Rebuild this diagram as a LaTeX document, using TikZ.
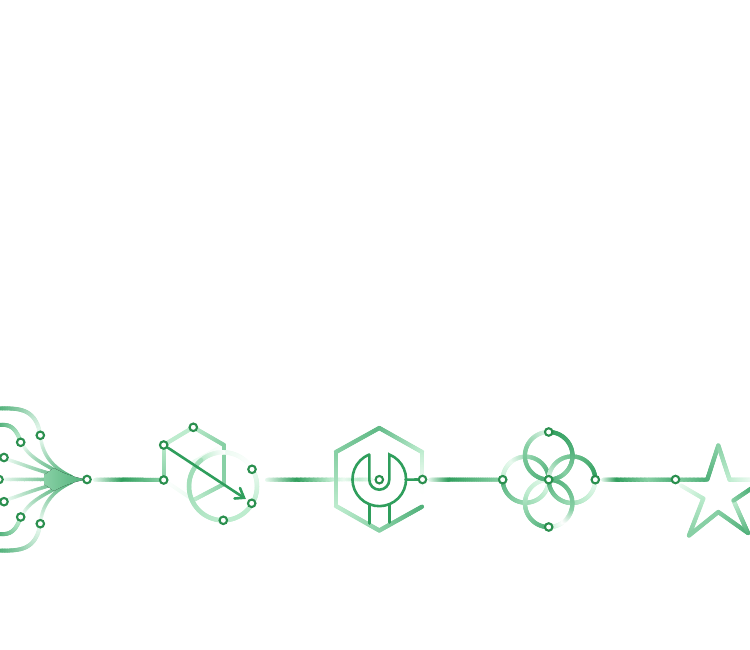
\documentclass[tikz,border=0pt]{standalone}
\usetikzlibrary{calc}
\definecolor{gd}{HTML}{2F9E5C}
\definecolor{gk}{HTML}{50B079}
\definecolor{gm}{HTML}{88D0A5}
\definecolor{gl}{HTML}{BDECCE}
\definecolor{gf}{HTML}{EAFAF0}
\definecolor{pr}{HTML}{2A8F4E}
\pgfdeclarelayer{fg}
\pgfsetlayers{main,fg}
\tikzset{
  port/.style={circle,draw=pr,fill=white,line width=2.1pt,minimum size=7.5pt,inner sep=0pt},
  seg/.style={line cap=round,line join=round},
  thin line/.style={draw=gd,line width=2.6pt,line cap=round,line join=miter}
}
\newcommand\NS{24}
\newcommand\WF{1.25}
% width, c1, c2, node a, node b
\newcommand\gline[5]{%
  \foreach \i in {1,...,\NS}{%
    \pgfmathsetmacro\ta{(\i-1)/\NS}%
    \pgfmathsetmacro\tb{\i/\NS}%
    \pgfmathsetmacro\pc{100*(1-(\i-.5)/\NS)}%
    \draw[seg,line width=\WF*#1pt,color={#2!\pc!#3}] ($(#4)!\ta!(#5)$) -- ($(#4)!\tb!(#5)$);
  }}
% width, c1, c2, cx, cy, r, a1, a2 (angles clockwise on the page)
\newcommand\garc[8]{%
  \foreach \i in {1,...,\NS}{%
    \pgfmathsetmacro\ta{#7+(#8-#7)*(\i-1)/\NS}%
    \pgfmathsetmacro\tb{#7+(#8-#7)*\i/\NS}%
    \pgfmathsetmacro\pc{100*(1-(\i-.5)/\NS)}%
    \pgfmathsetmacro\xa{#4+#6*cos(\ta)}\pgfmathsetmacro\ya{#5+#6*sin(\ta)}%
    \pgfmathsetmacro\xb{#4+#6*cos(\tb)}\pgfmathsetmacro\yb{#5+#6*sin(\tb)}%
    \draw[seg,line width=\WF*#1pt,color={#2!\pc!#3}] (\xa,\ya) -- (\xb,\yb);
  }}
% width, c1, c2, then x0 y0 x1 y1 x2 y2 x3 y3
\newcommand\gbez[3]{\def\gw{#1}\def\gca{#2}\def\gcb{#3}\gbezb}
\newcommand\gbezb[8]{%
  \foreach \i in {1,...,\NS}{%
    \pgfmathsetmacro\ta{(\i-1)/\NS}%
    \pgfmathsetmacro\tb{\i/\NS}%
    \pgfmathsetmacro\pc{100*(1-(\i-.5)/\NS)}%
    \pgfmathsetmacro\xa{(1-\ta)^3*(#1)+3*(1-\ta)^2*\ta*(#3)+3*(1-\ta)*\ta^2*(#5)+\ta^3*(#7)}%
    \pgfmathsetmacro\ya{(1-\ta)^3*(#2)+3*(1-\ta)^2*\ta*(#4)+3*(1-\ta)*\ta^2*(#6)+\ta^3*(#8)}%
    \pgfmathsetmacro\xb{(1-\tb)^3*(#1)+3*(1-\tb)^2*\tb*(#3)+3*(1-\tb)*\tb^2*(#5)+\tb^3*(#7)}%
    \pgfmathsetmacro\yb{(1-\tb)^3*(#2)+3*(1-\tb)^2*\tb*(#4)+3*(1-\tb)*\tb^2*(#6)+\tb^3*(#8)}%
    \draw[seg,line width=\WF*\gw pt,color={\gca!\pc!\gcb}] (\xa,\ya) -- (\xb,\yb);
  }}
\begin{document}
\begin{tikzpicture}[x=1pt,y=-1pt]
\useasboundingbox (0,0) rectangle (750,650);
\begin{pgfonlayer}{fg}
  \node[port] (a1) at (40.3,435.3) {};
  \node[port] (a2) at (20.7,442.3) {};
  \node[port] (a3) at (4,457.5) {};
  \node[port] (a4) at (-1,479.5) {};
  \node[port] (a5) at (4,501.7) {};
  \node[port] (a6) at (20.7,517) {};
  \node[port] (a7) at (40.3,523.7) {};
  \node[port] (a8) at (87,479.5) {};
  \node[port] (b1) at (193.3,427.3) {};
  \node[port] (b2) at (163.7,445) {};
  \node[port] (b3) at (163.7,480) {};
  \node[port] (b4) at (252,469.3) {};
  \node[port] (b5) at (251.7,503.3) {};
  \node[port] (b6) at (223.3,520.3) {};
  \node[port] (c1) at (379.3,479.7) {};
  \node[port] (c2) at (422.5,479.5) {};
  \node[port] (d1) at (548.7,432) {};
  \node[port] (d2) at (502.7,479.7) {};
  \node[port] (d3) at (548.7,479.7) {};
  \node[port] (d4) at (595.3,479.7) {};
  \node[port] (d5) at (548.7,527) {};
  \node[port] (e1) at (675.5,479.5) {};
\end{pgfonlayer}

% ---------- fan ----------
\gbez{3.2}{gk}{gf}{0}{408.5}{20}{408}{36}{409}{40.3}{435}
\gbez{3.2}{gk}{gl}{0}{425}{10}{424}{16}{428}{20.7}{442}
\gbez{3.2}{gk}{gf}{0}{550.5}{20}{551}{36}{550}{40.3}{524}
\gbez{3.2}{gk}{gl}{0}{534}{10}{535}{16}{531}{20.7}{517}
\gbez{2.8}{gf}{gk}{41}{440}{43}{452}{50}{467}{72}{477}
\gbez{2.8}{gf}{gk}{24}{447}{30}{456}{40}{464}{72}{478}
\gbez{2.8}{gf}{gk}{9}{460}{25}{465}{40}{472}{72}{479}
\gbez{2.8}{gf}{gk}{5}{479.5}{20}{479.5}{40}{479.5}{72}{479.5}
\gbez{2.8}{gf}{gk}{9}{499}{25}{494}{40}{487}{72}{480}
\gbez{2.8}{gf}{gk}{24}{512}{30}{503}{40}{495}{72}{481}
\gbez{2.8}{gf}{gk}{41}{519}{43}{507}{50}{492}{72}{482}
\fill[left color=gm,right color=gk]
  (86,479.5) .. controls (74,477) and (64,474) .. (54,468) -- (44,475) -- (44,484) -- (54,491)
  .. controls (64,485) and (74,482) .. (86,479.5) -- cycle;

% ---------- connector 1 ----------
\coordinate (h1a) at (95,479.5); \coordinate (h1b) at (124,479.5);
\gline{3.2}{gf}{gd}{h1a}{h1b}
\gline{3.2}{gd}{gm}{h1b}{b3}

% ---------- hexagon and circle ----------
\coordinate (hx1) at (224,445); \coordinate (hx2) at (224,484);
\coordinate (hx3) at (193.5,500); \coordinate (hx4) at (193.5,462);
\gline{3}{gf}{white}{hx4}{hx1}
\gline{3}{gf}{white}{hx3}{b3}
\gline{3.2}{gm}{gl}{hx2}{hx3}
\gline{3.2}{gl}{gm}{b2}{b3}
\gline{3.2}{gl}{gl}{b2}{b1}
\gline{3.2}{gl}{gm}{b1}{hx1}
\gline{3.2}{gm}{gm}{hx1}{hx2}
\garc{3.6}{gf}{white}{223}{486.3}{34}{-90}{-30}
\garc{3.6}{white}{gl}{223}{486.3}{34}{-90}{-130}
\garc{3.6}{gl}{gl!50!gm}{223}{486.3}{34}{-130}{-190}
\garc{3.6}{gl!50!gm}{gl}{223}{486.3}{34}{-190}{-270}
\garc{3.6}{gl}{gl}{223}{486.3}{34}{90}{30}
\garc{3.6}{gl}{gf}{223}{486.3}{34}{30}{-30}
\coordinate (ar1) at (244,497.8); \coordinate (ar2) at (234.5,498.5); \coordinate (ar3) at (240,488);
\draw[thin line] (b2) -- (ar1);
\draw[thin line] (ar2) -- (ar1) -- (ar3);

% ---------- connector 2 ----------
\coordinate (h2a) at (267,479.5); \coordinate (h2b) at (298,479.5); \coordinate (h2c) at (332,479.5);
\coordinate (h2d) at (345,479.5); \coordinate (h2e) at (360,479.5); \coordinate (h2f) at (372,479.5);
\gline{3.2}{gf}{gd}{h2a}{h2b}
\gline{3.2}{gd}{gl}{h2b}{h2c}
\gline{3}{gl}{gf}{h2c}{h2d}
\gline{3}{gf}{gl}{h2d}{h2e}
\gline{3}{gl}{gf}{h2e}{h2f}

% ---------- big hexagon ----------
\coordinate (q1) at (379.3,428); \coordinate (q2) at (422,452); \coordinate (q3) at (422,492);
\coordinate (q4) at (422,506.7); \coordinate (q5) at (379.3,530.5);
\coordinate (q6) at (336,506); \coordinate (q7) at (336,452);
\gline{3.4}{gm}{gk!70!gm}{q7}{q1}
\gline{3.4}{gk!70!gm}{gl}{q1}{q2}
\gline{3.4}{gl}{white}{q2}{q3}
\gline{3.4}{gk}{gm}{q4}{q5}
\gline{3.4}{gm}{gl}{q5}{q6}
\gline{3.4}{gl}{gm}{q6}{q7}

% ---------- wrench ----------
\coordinate (w1) at (369.3,454.5); \coordinate (w2) at (389.3,454.5);
\coordinate (w3) at (369.3,479.7); \coordinate (w4) at (389.3,479.7);
\coordinate (w5) at (369.3,504.3); \coordinate (w6) at (369.3,523.5);
\coordinate (w7) at (389.3,504.3); \coordinate (w8) at (389.3,522.5);
\coordinate (w9) at (405.5,479.6);
\draw[thin line] (w1) -- (w3) arc[start angle=180,end angle=0,radius=10] -- (w2)
  arc[start angle=-68,delta angle=316,radius=26.8];
\draw[thin line] (w5) -- (w6);
\draw[thin line] (w7) -- (w8);
\draw[thin line] (w9) -- (c2);

% ---------- connector 3 ----------
\coordinate (h3a) at (430,479.5); \coordinate (h3b) at (450,479.5);
\gline{3.2}{gf}{gd}{h3a}{h3b}
\gline{3.2}{gd}{gm}{h3b}{d2}

% ---------- rings (angles: 0 = right, 90 = down) ----------
\garc{3.4}{gl}{gf}{525.7}{479.7}{23}{180}{235}
\garc{3.4}{gf}{gm}{525.7}{479.7}{23}{235}{290}
\garc{3.4}{gm}{gk}{525.7}{479.7}{23}{290}{360}
\garc{3.4}{gk}{gm}{525.7}{479.7}{23}{180}{110}
\garc{3.4}{gm}{gl}{525.7}{479.7}{23}{110}{40}
\garc{3.4}{gl}{gf}{525.7}{479.7}{23}{40}{0}
\garc{3.4}{gf}{gm}{572}{479.7}{23.3}{180}{240}
\garc{3.4}{gm}{gd}{572}{479.7}{23.3}{240}{360}
\garc{3.4}{gk}{gm}{572}{479.7}{23.3}{180}{115}
\garc{3.4}{gm}{gl}{572}{479.7}{23.3}{115}{60}
\garc{3.4}{gl}{gf}{572}{479.7}{23.3}{60}{0}
\garc{3.4}{gf}{gl}{548.7}{503.4}{23.7}{270}{200}
\garc{3.4}{gl}{gm}{548.7}{503.4}{23.7}{200}{150}
\garc{3.4}{gm}{gk}{548.7}{503.4}{23.7}{150}{90}
\garc{3.4}{gl}{white}{548.7}{503.4}{23.7}{90}{50}
\garc{3.4}{white}{gm}{548.7}{503.4}{23.7}{50}{10}
\garc{3.4}{gm}{gk}{548.7}{503.4}{23.7}{10}{-90}
\garc{3.4}{gf}{gm}{548.7}{455.8}{23.8}{-90}{-160}
\garc{3.4}{gm}{gk}{548.7}{455.8}{23.8}{-160}{-270}
\garc{3.4}{gd}{gk}{548.7}{455.8}{23.8}{-90}{-10}
\garc{3.4}{gk}{gm}{548.7}{455.8}{23.8}{-10}{50}
\garc{3.4}{gm}{gk}{548.7}{455.8}{23.8}{50}{90}

% ---------- connector 4 ----------
\coordinate (h4a) at (603,479.5); \coordinate (h4b) at (618,479.5); \coordinate (h4c) at (650,479.5);
\gline{3.2}{gf}{gd}{h4a}{h4b}
\gline{3.2}{gd}{gm}{h4b}{h4c}
\gline{3.2}{gm}{gk}{h4c}{e1}

% ---------- star ----------
\coordinate (s1) at (707.3,479.5); \coordinate (s2) at (718.3,445.5); \coordinate (s3) at (729.5,479.5);
\coordinate (s4) at (752,479.5); \coordinate (s5) at (681,485.5); \coordinate (s6) at (703.3,498.5);
\coordinate (s7) at (689,535.5); \coordinate (s8) at (718.3,512); \coordinate (s9) at (748,533);
\coordinate (s10) at (733.5,500.5); \coordinate (s11) at (752,488);
\gline{3.2}{gm}{gk}{e1}{s1}
\gline{3.4}{gk}{gm}{s1}{s2}
\gline{3.4}{gm}{gl}{s2}{s3}
\gline{3.2}{gl}{gf}{s3}{s4}
\gline{3.2}{gf}{gl}{s5}{s6}
\gline{3.4}{gl}{gm}{s6}{s7}
\gline{3.4}{gm}{gm}{s7}{s8}
\gline{3.4}{gm}{gk}{s8}{s9}
\gline{3.4}{gk}{gl}{s9}{s10}
\gline{3.4}{gm}{gk}{s10}{s11}
\end{tikzpicture}
\end{document}
